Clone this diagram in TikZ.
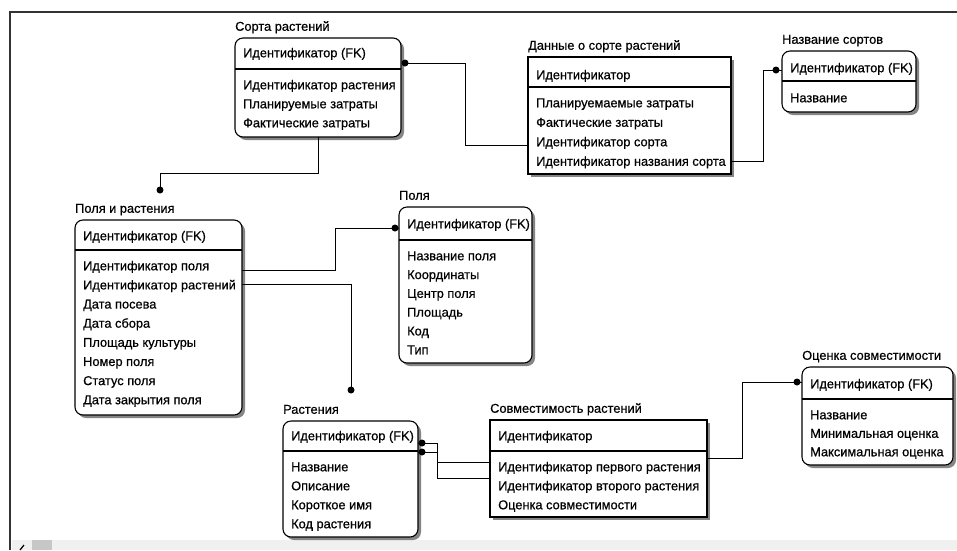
\documentclass[tikz,border=0pt]{standalone}
\usepackage{fontspec}
\setmainfont{Liberation Sans}[RawFeature={embolden=0.6}]
\usetikzlibrary{calc}
\newcommand\entity[8]{%
  \fill[shd,#7] (#2+3,#3+3) rectangle (#4+3,#6+3);
  \node[boxst,#7,anchor=north west,minimum width=#4-#2,minimum height=#6-#3] (#1) at (#2,#3) {};
  \draw[line width=1.1pt] (#2,#5) -- (#4,#5);
  \node[txt] (#1-t) at (#2,#3-10.5) {#8};
}
\newcommand\rows[5]{%
  \foreach \t [count=\i from 0] in {#5} {\node[txt] (#1-\i) at (#2,#3+\i*#4) {\t};}
}
\begin{document}
\begin{tikzpicture}[x=1pt,y=-1pt,
  boxst/.style={draw=black,line width=1.1pt,fill=white,inner sep=0pt,outer sep=0pt},
  shd/.style={fill=black!48},
  rnd/.style={rounded corners=8pt},
  sq/.style={sharp corners},
  txt/.style={anchor=west,inner sep=0pt,font=\fontsize{12.8}{14}\selectfont,text height=9pt,text depth=2.5pt},
  conn/.style={line width=1pt,draw=black},
  dotn/.style={circle,fill=black,inner sep=0pt,minimum size=7pt}]
\useasboundingbox (0,0) rectangle (957,550);
\fill[white] (0,0) rectangle (957,550);
% frame
\fill[black!6] (12,540) rectangle (957,550);
\fill[black!22] (32,540) rectangle (52,550);
\draw[line width=1.2pt] (20,550) -- (24,545);
\draw[line width=2pt,black!80] (10,550) -- (10,12) -- (957,12);

% entities
\entity{sr}{235}{38}{401}{69}{137}{rnd}{Сорта растений}
\node[txt] (sr-k) at (243,54) {Идентификатор (FK)};
\rows{sr}{243}{86}{19}{Идентификатор растения,Планируемые затраты,Фактические затраты}

\entity{ds}{528}{57}{731}{87}{174}{sq}{Данные о сорте растений}
\node[txt] (ds-k) at (536,76) {Идентификатор};
\rows{ds}{536}{104}{19.5}{Планируемаемые затраты,Фактические затраты,Идентификатор сорта,Идентификатор названия сорта}

\entity{ns}{782}{51}{916}{81}{112}{rnd}{Название сортов}
\node[txt] (ns-k) at (790,69) {Идентификатор (FK)};
\rows{ns}{790}{99}{19}{Название}

\entity{pr}{75}{220}{242}{250}{415}{rnd}{Поля и растения}
\node[txt] (pr-k) at (83,237) {Идентификатор (FK)};
\rows{pr}{83}{267}{19.14}{Идентификатор поля,Идентификатор растений,Дата посева,Дата сбора,Площадь культуры,Номер поля,Статус поля,Дата закрытия поля}

\entity{po}{399}{207}{532}{240}{363}{rnd}{Поля}
\node[txt] (po-k) at (407,225) {Идентификатор (FK)};
\rows{po}{407}{257}{18.8}{Название поля,Координаты,Центр поля,Площадь,Код,Тип}

\entity{ra}{283}{421}{418}{451}{537}{rnd}{Растения}
\node[txt] (ra-k) at (291,437) {Идентификатор (FK)};
\rows{ra}{291}{468}{19}{Название,Описание,Короткое имя,Код растения}

\entity{sv}{490}{420}{707}{451}{517}{sq}{Совместимость растений}
\node[txt] (sv-k) at (498,437) {Идентификатор};
\rows{sv}{498}{468}{19}{Идентификатор первого растения,Идентификатор второго растения,Оценка совместимости}

\entity{os}{802}{367}{953}{399}{465}{rnd}{Оценка совместимости}
\node[txt] (os-k) at (810,385) {Идентификатор (FK)};
\rows{os}{810}{416}{18.5}{Название,Минимальная оценка,Максимальная оценка}

% dots
\node[dotn] (d1) at (160,190) {};
\node[dotn] (d2) at (405,63) {};
\node[dotn] (d3) at (776,70) {};
\node[dotn] (d4) at (395,228) {};
\node[dotn] (d5) at (351,390) {};
\node[dotn] (d6) at (797,382) {};
\node[dotn] (d7) at (422,443) {};
\node[dotn] (d8) at (422,452) {};

% connectors
\draw[conn] (sr.south) -- (318,173) -| (d1.center);
\draw[conn] (d2.center) -- (465,63) -- (465,145) -- (ds.west |- 0,145);
\draw[conn] (ds.east |- 0,161) -- (763,161) -- (763,70) -- (ns.west |- 0,70);
\draw[conn] (pr.east |- 0,270) -- (335,270) -- (335,228) -- (po.west |- 0,228);
\draw[conn] (pr.east |- 0,284) -| (d5.center);
\draw[conn] (sv.east |- 0,458) -- (742,458) -- (742,382) -- (os.west |- 0,382);
\draw[conn] (sv.west |- 0,462) -- (437,462) -- (437,443) -- (ra.east |- 0,443);
\draw[conn] (sv.west |- 0,478) -- (437,478) -- (437,452) -- (ra.east |- 0,452);
\end{tikzpicture}
\end{document}
